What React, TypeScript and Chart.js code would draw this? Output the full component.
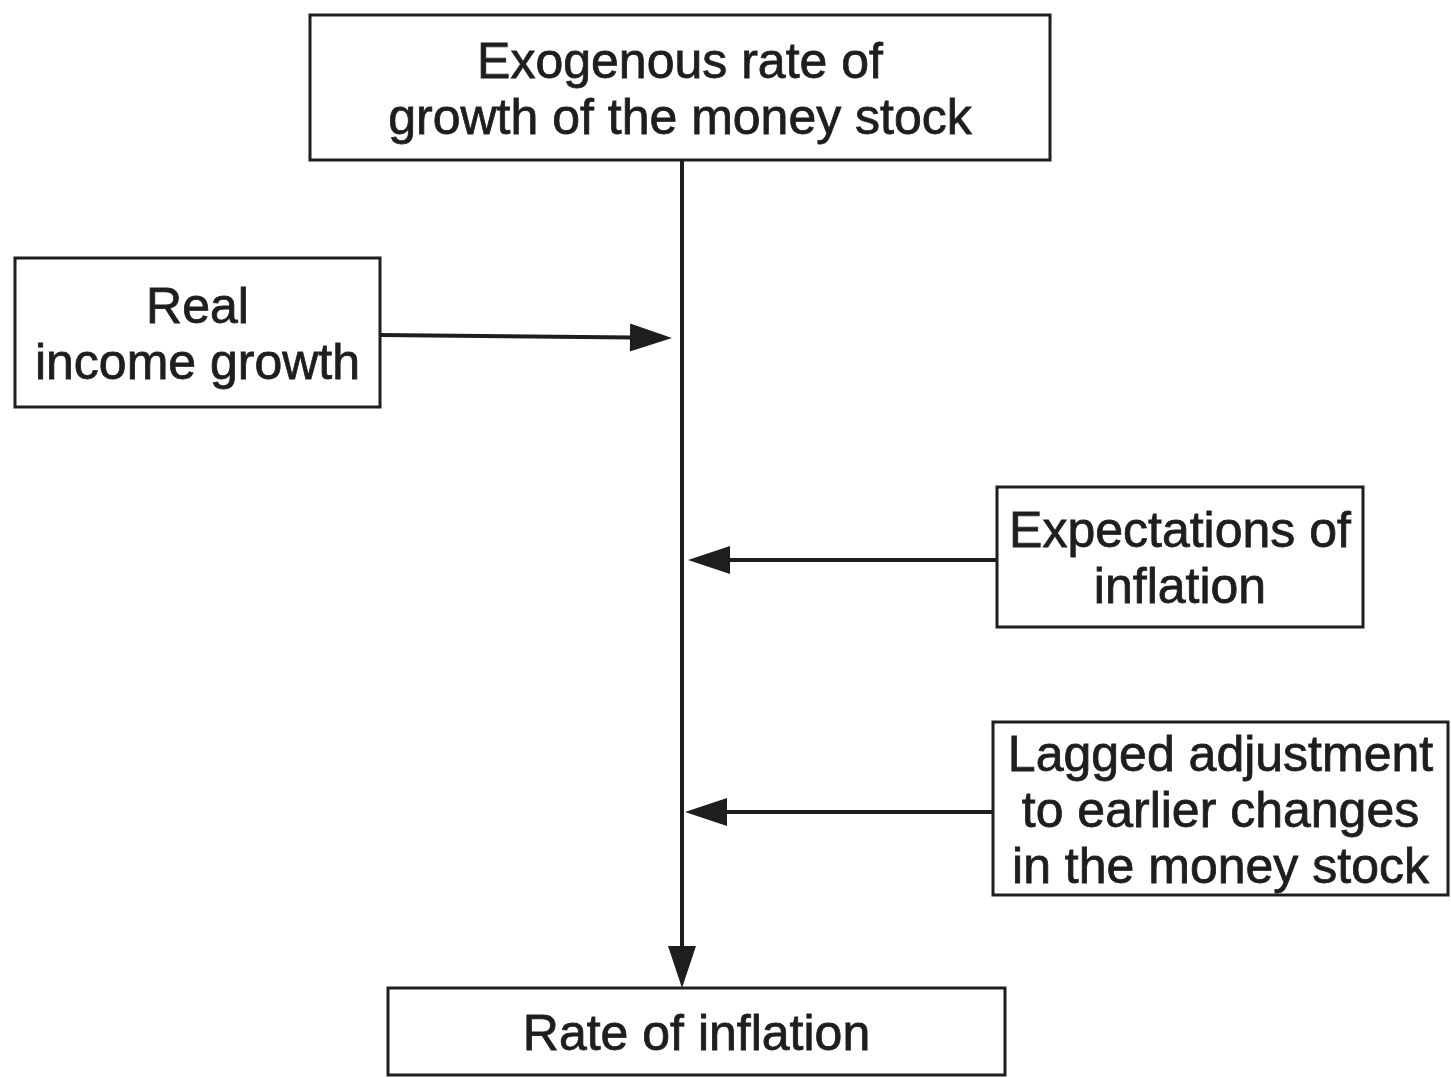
import { useEffect, useRef } from "react";
import { Chart, registerables } from "chart.js";

Chart.register(...registerables);

// Diagram content: boxes (labels + extents in diagram units) and connectors
const boxLabels: string[][] = [
  ["Exogenous rate of", "growth of the money stock"],
  ["Real", "income growth"],
  ["Expectations of", "inflation"],
  ["Lagged adjustment", "to earlier changes", "in the money stock"],
  ["Rate of inflation"],
];
const boxLeft = [310, 15, 997, 993, 388];
const boxRight = [1050, 380, 1363, 1448, 1005];
const boxTop = [15, 258, 487, 722, 988];
const boxBottom = [160, 407, 627, 895, 1075];

const arrowFromX = [682, 380, 997, 993];
const arrowFromY = [160, 335, 560, 812];
const arrowToX = [682, 672, 688, 685];
const arrowToY = [988, 338, 560, 812];

const INK = "#1e1e1e";
const FONT = '50px "Liberation Sans", Arial, Helvetica, sans-serif';

const diagramPlugin = {
  id: "diagram",
  afterDatasetsDraw(chart: any) {
    const { ctx, scales } = chart;
    const xs = scales.x;
    const ys = scales.y;
    ctx.save();
    // connectors with arrowheads
    ctx.fillStyle = INK;
    ctx.strokeStyle = INK;
    for (let i = 0; i < arrowToX.length; i++) {
      const x0 = xs.getPixelForValue(arrowFromX[i]);
      const y0 = ys.getPixelForValue(arrowFromY[i]);
      const x1 = xs.getPixelForValue(arrowToX[i]);
      const y1 = ys.getPixelForValue(arrowToY[i]);
      const ang = Math.atan2(y1 - y0, x1 - x0);
      const len = 42;
      const hw = 14;
      const bx = x1 - len * Math.cos(ang);
      const by = y1 - len * Math.sin(ang);
      ctx.lineWidth = 4;
      ctx.lineCap = "butt";
      ctx.beginPath();
      ctx.moveTo(x0, y0);
      ctx.lineTo(bx + 2 * Math.cos(ang), by + 2 * Math.sin(ang));
      ctx.stroke();
      ctx.beginPath();
      ctx.moveTo(x1, y1);
      ctx.lineTo(bx + hw * Math.sin(ang), by - hw * Math.cos(ang));
      ctx.lineTo(bx - hw * Math.sin(ang), by + hw * Math.cos(ang));
      ctx.closePath();
      ctx.fill();
    }
    // boxes
    ctx.lineWidth = 3;
    ctx.font = FONT;
    ctx.textAlign = "center";
    ctx.textBaseline = "alphabetic";
    for (let i = 0; i < boxLabels.length; i++) {
      const l = xs.getPixelForValue(boxLeft[i]);
      const r = xs.getPixelForValue(boxRight[i]);
      const t = ys.getPixelForValue(boxTop[i]);
      const b = ys.getPixelForValue(boxBottom[i]);
      ctx.fillStyle = "#ffffff";
      ctx.fillRect(l, t, r - l, b - t);
      ctx.lineWidth = 3;
      ctx.strokeStyle = INK;
      ctx.strokeRect(l, t, r - l, b - t);
      ctx.fillStyle = INK;
      ctx.lineWidth = 0.8;
      const cx = (l + r) / 2;
      const cy = (t + b) / 2;
      const lines = boxLabels[i];
      const n = lines.length;
      for (let j = 0; j < n; j++) {
        const y = cy + 18 + (j - (n - 1) / 2) * 56;
        ctx.fillText(lines[j], cx, y);
        ctx.strokeText(lines[j], cx, y);
      }
    }
    ctx.restore();
  },
};

export default function App() {
  const ref = useRef<HTMLCanvasElement | null>(null);
  useEffect(() => {
    document.body.style.margin = "0";
    document.body.style.background = "#ffffff";
    if (!ref.current) return;
    const datasets = arrowToX.map((_, i) => ({
      type: "scatter" as const,
      label: `connector${i}`,
      data: [
        { x: arrowFromX[i], y: arrowFromY[i] },
        { x: arrowToX[i], y: arrowToY[i] },
      ],
      pointRadius: 0,
      showLine: false,
    }));
    const chart = new Chart(ref.current, {
      type: "scatter",
      data: { datasets },
      options: {
        animation: false,
        responsive: true,
        maintainAspectRatio: false,
        layout: { padding: 0 },
        plugins: {
          legend: { display: false },
          tooltip: { enabled: false },
        },
        events: [],
        scales: {
          x: { type: "linear", min: 0, max: 1451, display: false },
          y: { type: "linear", min: 0, max: 1078, reverse: true, display: false },
        },
      },
      plugins: [diagramPlugin],
    });
    return () => chart.destroy();
  }, []);
  return (
    <div style={{ width: 1451, height: 1078, position: "relative", background: "#fff" }}>
      <canvas ref={ref} />
    </div>
  );
}
